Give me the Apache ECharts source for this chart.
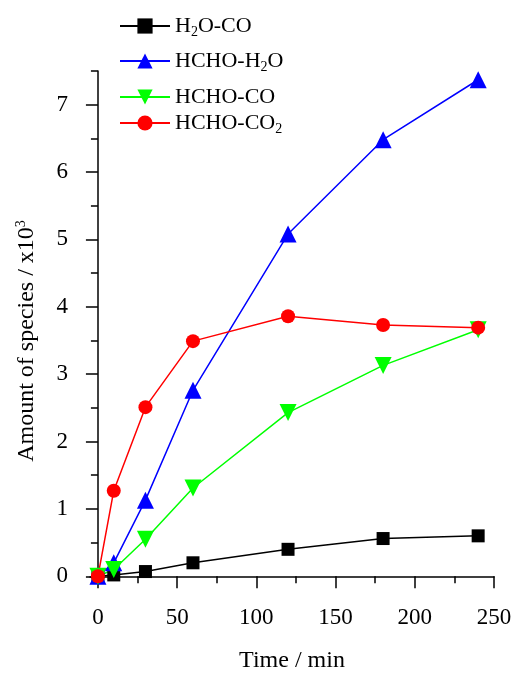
<!DOCTYPE html>
<html>
<head>
<meta charset="utf-8">
<script src="https://cdn.jsdelivr.net/npm/echarts@6/dist/echarts.min.js"></script>
<style>html,body{margin:0;padding:0;background:#fff;}#c{width:513px;height:673px;}</style>
</head>
<body>
<div id="c"></div>
<script>
const times = [0, 10, 30, 60, 120, 180, 240];
const h2oCO = [0, 0.02, 0.07, 0.20, 0.40, 0.56, 0.60];
const hchoH2O = [0, 0.20, 1.13, 2.76, 5.08, 6.48, 7.37];
const hchoCO = [0, 0.10, 0.55, 1.31, 2.43, 3.13, 3.66];
const hchoCO2 = [0, 1.27, 2.51, 3.49, 3.86, 3.73, 3.69];
const xTicks = [0, 50, 100, 150, 200, 250];
const xMinor = [25, 75, 125, 175, 225];
const yTicks = [0, 1, 2, 3, 4, 5, 6, 7];
const yMinor = [0.5, 1.5, 2.5, 3.5, 4.5, 5.5, 6.5, 7.5];

const FONT = 'Liberation Serif';
const pairs = (ys) => times.map((t, i) => [t, ys[i]]);
const rich = {
  n: {fontSize: 22, fontFamily: FONT, color: '#000', lineHeight: 26, verticalAlign: 'middle'},
  s: {fontSize: 14, fontFamily: FONT, color: '#000', lineHeight: 26, verticalAlign: 'bottom'}
};
const names = ['H2O-CO', 'HCHO-H2O', 'HCHO-CO', 'HCHO-CO2'];
const labels = {
  'H2O-CO': '{n|H}{s|2}{n|O-CO}',
  'HCHO-H2O': '{n|HCHO-H}{s|2}{n|O}',
  'HCHO-CO': '{n|HCHO-CO}',
  'HCHO-CO2': '{n|HCHO-CO}{s|2}'
};
const legendTops = [15, 50, 86, 112];
const legends = names.map((nm, i) => ({
  data: [nm], left: 119, top: legendTops[i], orient: 'vertical', padding: 0,
  itemWidth: 50, itemHeight: 19, itemGap: 5,
  formatter: (n) => labels[n],
  textStyle: {rich: rich}
}));

const axisLine = {show: true, lineStyle: {color: '#000', width: 1.5}};
const chart = echarts.init(document.getElementById('c'));
chart.setOption({
  animation: false,
  backgroundColor: '#fff',
  legend: legends,
  grid: {left: 90, right: 19, top: 71, bottom: 90, containLabel: false, outerBoundsMode: 'none'},
  xAxis: [{
    type: 'value', min: -5, max: 250, position: 'bottom',
    axisLine: axisLine,
    axisTick: {show: true, customValues: xTicks, length: 12, lineStyle: {color: '#000', width: 1.5}},
    axisLabel: {customValues: xTicks, fontSize: 23, fontFamily: FONT, color: '#000', margin: 23},
    splitLine: {show: false},
    name: 'Time / min', nameLocation: 'middle', nameGap: 66,
    nameTextStyle: {fontSize: 24, fontFamily: FONT, color: '#000'}
  }, {
    type: 'value', min: -5, max: 250, position: 'bottom', offset: 0,
    axisLine: {show: false},
    axisTick: {show: true, customValues: xMinor, length: 7, lineStyle: {color: '#000', width: 1.5}},
    axisLabel: {show: false},
    splitLine: {show: false}
  }],
  yAxis: [{
    type: 'value', min: -0.1, max: 7.5, position: 'left',
    axisLine: axisLine,
    axisTick: {show: true, customValues: yTicks, length: 12, lineStyle: {color: '#000', width: 1.5}},
    axisLabel: {customValues: yTicks, fontSize: 23, fontFamily: FONT, color: '#000', margin: 22},
    splitLine: {show: false},
    name: 'Amount of species / x10{sup|3}', nameLocation: 'middle', nameGap: 50, nameRotate: 90,
    nameTextStyle: {fontSize: 24, fontFamily: FONT, color: '#000', padding: [0, 28, 0, 0],
      rich: {sup: {fontSize: 14, fontFamily: FONT, color: '#000', verticalAlign: 'top', lineHeight: 26}}}
  }, {
    type: 'value', min: -0.1, max: 7.5, position: 'left', offset: 0,
    axisLine: {show: false},
    axisTick: {show: true, customValues: yMinor, length: 7, lineStyle: {color: '#000', width: 1.5}},
    axisLabel: {show: false},
    splitLine: {show: false}
  }],
  series: [
    {name: 'H2O-CO', type: 'line', data: pairs(h2oCO), symbol: 'rect', symbolSize: 13,
     itemStyle: {color: '#000'}, lineStyle: {color: '#000', width: 1.5}},
    {name: 'HCHO-H2O', type: 'line', data: pairs(hchoH2O), symbol: 'triangle', symbolSize: 17,
     itemStyle: {color: '#0000ff'}, lineStyle: {color: '#0000ff', width: 1.5}},
    {name: 'HCHO-CO', type: 'line', data: pairs(hchoCO), symbol: 'triangle', symbolRotate: 180, symbolSize: 17,
     itemStyle: {color: '#00ff00'}, lineStyle: {color: '#00ff00', width: 1.5}},
    {name: 'HCHO-CO2', type: 'line', data: pairs(hchoCO2), symbol: 'circle', symbolSize: 14,
     itemStyle: {color: '#ff0000'}, lineStyle: {color: '#ff0000', width: 1.5}}
  ]
});
</script>
</body>
</html>
